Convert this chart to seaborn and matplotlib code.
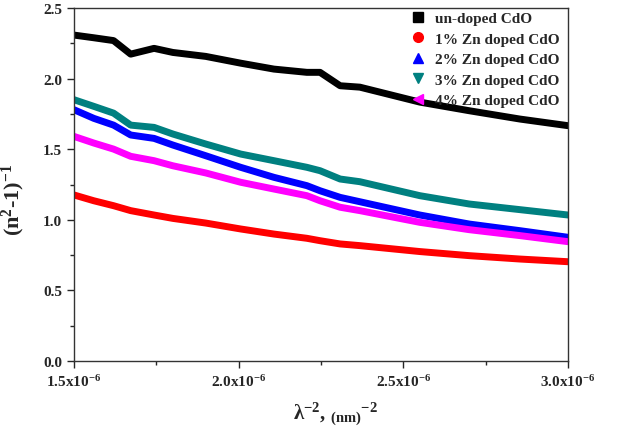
import numpy as np
import pandas as pd
import seaborn as sns
import matplotlib
matplotlib.use("Agg")
from matplotlib import pyplot as plt
from matplotlib.lines import Line2D
from matplotlib.ticker import FuncFormatter, MultipleLocator

# lambda^-2 in nm^-2
x_vals = [1.50e-6, 1.56e-6, 1.62e-6, 1.672e-6, 1.743e-6, 1.80e-6, 1.90e-6, 2.006e-6,
          2.107e-6, 2.207e-6, 2.247e-6, 2.308e-6, 2.368e-6, 2.55e-6, 2.70e-6, 2.854e-6, 3.00e-6]

undoped = [2.309, 2.29, 2.27, 2.174, 2.215, 2.186, 2.158, 2.11,
           2.068, 2.045, 2.045, 1.95, 1.94, 1.834, 1.773, 1.714, 1.667]
zn1 = [1.176, 1.135, 1.100, 1.065, 1.034, 1.010, 0.977, 0.935,
       0.899, 0.869, 0.852, 0.829, 0.817, 0.775, 0.746, 0.722, 0.703]
zn2 = [1.780, 1.719, 1.671, 1.601, 1.577, 1.530, 1.454, 1.372,
       1.301, 1.242, 1.206, 1.159, 1.128, 1.034, 0.970, 0.923, 0.876]
zn3 = [1.851, 1.804, 1.756, 1.671, 1.655, 1.608, 1.537, 1.466,
       1.419, 1.372, 1.348, 1.289, 1.270, 1.171, 1.112, 1.072, 1.034]
zn4 = [1.591, 1.544, 1.501, 1.450, 1.419, 1.383, 1.332, 1.266,
       1.218, 1.171, 1.135, 1.089, 1.065, 0.982, 0.930, 0.888, 0.845]

labels = ["un-doped CdO", "1% Zn doped CdO", "2% Zn doped CdO",
          "3% Zn doped CdO", "4% Zn doped CdO"]
colors = ["black", "#ff0000", "#0000ff", "#008080", "#ff00ff"]
markers = ["s", "o", "^", "v", "<"]

df = pd.concat([
    pd.DataFrame({"x": x_vals, "y": ys, "sample": lab})
    for ys, lab in zip([undoped, zn1, zn2, zn3, zn4], labels)
])

sns.set_style("ticks")
plt.rcParams["font.family"] = ["Liberation Serif", "DejaVu Serif"]
plt.rcParams["font.weight"] = "bold"
plt.rcParams["mathtext.fontset"] = "custom"
plt.rcParams["mathtext.rm"] = "Liberation Serif:bold"
plt.rcParams["mathtext.it"] = "Liberation Serif:bold"
plt.rcParams["mathtext.bf"] = "Liberation Serif:bold"
plt.rcParams["mathtext.default"] = "rm"

fig = plt.figure(figsize=(6.17, 4.35), dpi=100)
ax = fig.add_axes([0.12, 0.168, 0.8006, 0.811])

sns.lineplot(data=df, x="x", y="y", hue="sample", palette=colors, hue_order=labels,
             linewidth=5, sort=False, legend=False, ax=ax)

ax.set_xlim(1.5e-6, 3.0e-6)
ax.set_ylim(0, 2.5)
ax.xaxis.set_major_locator(MultipleLocator(0.5e-6))
ax.xaxis.set_minor_locator(MultipleLocator(0.25e-6))
ax.yaxis.set_major_locator(MultipleLocator(0.5))
ax.yaxis.set_minor_locator(MultipleLocator(0.25))
ax.xaxis.set_major_formatter(FuncFormatter(lambda v, p: f"{v*1e6:.1f}x10$^{{-6}}$"))
ax.yaxis.set_major_formatter(FuncFormatter(lambda v, p: f"{v:.1f}"))
ax.tick_params(which="major", direction="out", length=5, width=1, labelsize=11)
ax.tick_params(which="minor", direction="out", length=3, width=1)
for s in ax.spines.values():
    s.set_visible(True)
    s.set_linewidth(1)
    s.set_color("#333333")

ax.set_xlabel(r"λ$^{-2}$, $_{(nm)}$$^{-2}$", fontsize=15, fontweight="bold")
ax.xaxis.set_label_coords(0.53, -0.112)
ax.set_ylabel(r"(n$^{2}$-1)$^{-1}$", fontsize=16, fontweight="bold")
ax.yaxis.set_label_coords(-0.095, 0.46)

handles = [Line2D([], [], color=c, marker=m, linestyle="none", markersize=7)
           for c, m in zip(colors, markers)]
ax.legend(handles, labels, loc="upper right", bbox_to_anchor=(1.01, 1.03), frameon=False,
          prop={"family": "Liberation Serif", "weight": "bold", "size": 11},
          handletextpad=0.5, labelspacing=0.45, handlelength=1.2)

fig.savefig("out.png", dpi=100)
